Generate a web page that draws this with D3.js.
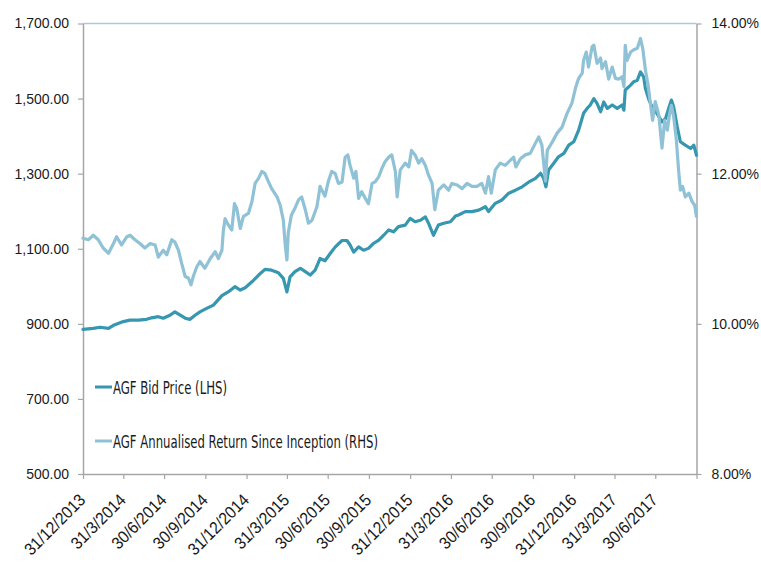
<!DOCTYPE html>
<html>
<head>
<meta charset="utf-8">
<script src="https://cdn.jsdelivr.net/npm/d3@7"></script>
<style>
  html, body { margin: 0; padding: 0; background: #fff; }
  svg { display: block; }
</style>
</head>
<body>
<svg id="chart" width="761" height="562"></svg>
<script>
"use strict";

// AGF Bid Price (LHS)
const bidDates = [
  "2013-12-31","2014-01-23","2014-02-07","2014-02-26","2014-03-09","2014-03-31","2014-04-15","2014-05-04",
  "2014-05-22","2014-06-02","2014-06-17","2014-06-28","2014-07-13","2014-07-24","2014-08-05","2014-08-16",
  "2014-08-27","2014-09-07","2014-09-18","2014-10-03","2014-10-18","2014-11-06","2014-11-20","2014-12-05",
  "2014-12-17","2014-12-28","2015-01-12","2015-01-27","2015-02-10","2015-02-25","2015-03-12","2015-03-23",
  "2015-03-31","2015-04-07","2015-04-18","2015-04-30","2015-05-11","2015-05-22","2015-06-02","2015-06-13",
  "2015-06-24","2015-07-06","2015-07-17","2015-08-01","2015-08-12","2015-08-19","2015-08-27","2015-09-07",
  "2015-09-18","2015-09-29","2015-10-10","2015-10-22","2015-11-02","2015-11-13","2015-11-24","2015-12-05",
  "2015-12-20","2015-12-31","2016-01-11","2016-01-23","2016-02-03","2016-02-10","2016-02-21","2016-03-03",
  "2016-03-15","2016-03-30","2016-04-10","2016-04-17","2016-05-02","2016-05-17","2016-06-01","2016-06-16",
  "2016-06-23","2016-07-08","2016-07-23","2016-08-07","2016-08-22","2016-09-06","2016-09-21","2016-10-05",
  "2016-10-17","2016-10-24","2016-10-29","2016-11-04","2016-11-15","2016-11-26","2016-12-08","2016-12-19",
  "2016-12-30","2017-01-10","2017-01-21","2017-01-29","2017-02-05","2017-02-13","2017-02-20","2017-02-28",
  "2017-03-07","2017-03-15","2017-03-26","2017-04-06","2017-04-17","2017-04-21","2017-04-24","2017-05-06",
  "2017-05-13","2017-05-21","2017-05-28","2017-06-04","2017-06-08","2017-06-16","2017-06-23","2017-07-04",
  "2017-07-15","2017-07-23","2017-07-30","2017-08-05","2017-08-10","2017-08-18","2017-08-25","2017-09-05",
  "2017-09-17","2017-09-24","2017-09-30"
];
const bidValues = [
  885, 888, 891, 888, 896, 906, 910, 910,
  912, 916, 919, 915, 923, 932, 923, 915,
  912, 923, 932, 941, 950, 975, 985, 999,
  990, 996, 1012, 1030, 1045, 1043, 1036, 1021,
  985, 1025, 1039, 1048, 1039, 1030, 1043, 1074,
  1068, 1088, 1105, 1122, 1122, 1110, 1091, 1105,
  1096, 1101, 1114, 1123, 1136, 1150, 1145, 1159,
  1163, 1181, 1172, 1176, 1185, 1168, 1136, 1163,
  1168, 1172, 1187, 1190, 1199, 1199, 1203, 1212,
  1199, 1221, 1230, 1248, 1256, 1265, 1278, 1287,
  1301, 1287, 1265, 1310, 1327, 1345, 1354, 1376,
  1385, 1416, 1461, 1474, 1483, 1500, 1487, 1465,
  1491, 1474, 1483, 1474, 1483, 1469, 1523, 1536,
  1545, 1549, 1571, 1558, 1527, 1496, 1478, 1460,
  1438, 1447, 1474, 1496, 1478, 1425, 1385, 1376,
  1367, 1376, 1349
];

// AGF Annualised Return Since Inception (RHS), in %
const retDates = [
  "2013-12-31","2014-01-12","2014-01-23","2014-02-03","2014-02-14","2014-02-26","2014-03-09","2014-03-16",
  "2014-03-27","2014-04-08","2014-04-15","2014-04-26","2014-05-07","2014-05-18","2014-05-30","2014-06-10",
  "2014-06-17","2014-06-28","2014-07-06","2014-07-17","2014-07-24","2014-08-01","2014-08-08","2014-08-16",
  "2014-08-23","2014-08-29","2014-09-03","2014-09-11","2014-09-18","2014-09-29","2014-10-11","2014-10-22",
  "2014-10-29","2014-11-06","2014-11-09","2014-11-13","2014-11-20","2014-11-28","2014-12-04","2014-12-09",
  "2014-12-17","2014-12-24","2015-01-04","2015-01-12","2015-01-19","2015-01-27","2015-02-03","2015-02-10",
  "2015-02-18","2015-02-25","2015-03-09","2015-03-16","2015-03-23","2015-03-27","2015-03-31","2015-04-03",
  "2015-04-10","2015-04-18","2015-04-26","2015-05-03","2015-05-11","2015-05-18","2015-05-26","2015-06-06",
  "2015-06-13","2015-06-24","2015-07-02","2015-07-09","2015-07-17","2015-07-24","2015-08-01","2015-08-08",
  "2015-08-14","2015-08-19","2015-08-27","2015-09-01","2015-09-07","2015-09-14","2015-09-22","2015-09-29",
  "2015-10-07","2015-10-14","2015-10-22","2015-10-29","2015-11-05","2015-11-13","2015-11-20","2015-11-28",
  "2015-12-02","2015-12-09","2015-12-20","2015-12-28","2016-01-03","2016-01-11","2016-01-19","2016-01-26",
  "2016-02-03","2016-02-10","2016-02-18","2016-02-24","2016-03-03","2016-03-15","2016-03-26","2016-04-02",
  "2016-04-14","2016-04-25","2016-05-06","2016-05-17","2016-05-28","2016-06-08","2016-06-16","2016-06-23",
  "2016-06-29","2016-07-08","2016-07-19","2016-07-30","2016-08-11","2016-08-18","2016-08-23","2016-09-02",
  "2016-09-13","2016-09-24","2016-10-05","2016-10-13","2016-10-20","2016-10-28","2016-11-01","2016-11-12",
  "2016-11-23","2016-12-04","2016-12-15","2016-12-26","2017-01-03","2017-01-10","2017-01-18","2017-01-21",
  "2017-01-27","2017-02-01","2017-02-09","2017-02-13","2017-02-20","2017-02-28","2017-03-03","2017-03-11",
  "2017-03-18","2017-03-26","2017-04-02","2017-04-10","2017-04-17","2017-04-21","2017-04-24","2017-04-28",
  "2017-05-06","2017-05-13","2017-05-21","2017-05-28","2017-06-02","2017-06-08","2017-06-14","2017-06-19",
  "2017-06-24","2017-06-30","2017-07-08","2017-07-15","2017-07-21","2017-07-27","2017-08-01","2017-08-05",
  "2017-08-10","2017-08-16","2017-08-21","2017-08-25","2017-08-30","2017-09-05","2017-09-13","2017-09-20",
  "2017-09-26","2017-09-30"
];
const retValues = [
  11.14, 11.12, 11.18, 11.12, 11.01, 10.94, 11.07, 11.16,
  11.05, 11.16, 11.18, 11.12, 11.07, 11.01, 11.07, 11.05,
  10.89, 10.98, 10.92, 11.12, 11.09, 10.98, 10.81, 10.63,
  10.61, 10.52, 10.63, 10.76, 10.83, 10.74, 10.87, 10.96,
  10.87, 10.98, 11.23, 11.40, 11.32, 11.25, 11.60, 11.54,
  11.27, 11.43, 11.47, 11.63, 11.87, 11.94, 12.03, 12.00,
  11.89, 11.80, 11.69, 11.58, 11.38, 11.07, 10.85, 11.21,
  11.45, 11.54, 11.65, 11.69, 11.52, 11.34, 11.38, 11.56,
  11.83, 11.70, 11.91, 12.03, 12.00, 11.87, 11.89, 12.22,
  12.25, 12.11, 11.94, 12.03, 11.67, 11.76, 11.67, 11.60,
  11.87, 11.89, 11.96, 12.07, 12.16, 12.22, 12.25, 12.03,
  11.69, 12.05, 12.14, 12.09, 12.31, 12.25, 12.14, 12.20,
  12.11, 11.98, 11.87, 11.52, 11.78, 11.85, 11.78, 11.87,
  11.85, 11.80, 11.87, 11.83, 11.83, 11.87, 11.74, 11.96,
  11.74, 12.05, 12.14, 12.11, 12.18, 12.22, 12.09, 12.20,
  12.25, 12.27, 12.40, 12.49, 12.38, 11.90, 12.31, 12.42,
  12.54, 12.62, 12.80, 12.94, 13.14, 13.27, 13.34, 13.51,
  13.62, 13.42, 13.69, 13.71, 13.47, 13.54, 13.40, 13.49,
  13.26, 13.42, 13.27, 13.26, 13.29, 13.16, 13.71, 13.51,
  13.62, 13.65, 13.67, 13.80, 13.67, 13.38, 13.18, 12.94,
  12.71, 12.96, 12.78, 12.34, 12.71, 12.58, 12.80, 12.91,
  12.76, 12.45, 12.05, 11.78, 11.83, 11.69, 11.74, 11.63,
  11.58, 11.43
];

// axis ticks
const xTickLabels = [
  "31/12/2013","31/3/2014","30/6/2014","30/9/2014","31/12/2014","31/3/2015","30/6/2015","30/9/2015",
  "31/12/2015","31/3/2016","30/6/2016","30/9/2016","31/12/2016","31/3/2017","30/6/2017"
];
const leftTicks = [500, 700, 900, 1100, 1300, 1500, 1700];
const rightTicks = [8, 10, 12, 14];
const seriesNames = ["AGF Bid Price (LHS)", "AGF Annualised Return Since Inception (RHS)"];
const seriesColors = ["#3797b0", "#8fc2d6"];

const parseIso = d3.timeParse("%Y-%m-%d");
const parseDmy = d3.timeParse("%d/%m/%Y");

const margin = {top: 23.5, right: 64.5, bottom: 88, left: 83};
const W = 761, H = 562;
const svg = d3.select("#chart");

const domainEnd = parseIso("2017-09-30");
const x = d3.scaleTime()
  .domain([parseIso("2013-12-31"), domainEnd])
  .range([margin.left, W - margin.right]);
const yL = d3.scaleLinear().domain([500, 1700]).range([H - margin.bottom, margin.top]);
const yR = d3.scaleLinear().domain([8, 14]).range([H - margin.bottom, margin.top]);

const axisColor = "#a6a6a6";
const tickFont = "'Liberation Sans', Arial, sans-serif";
const narrowFont = "'Liberation Sans Narrow', 'DejaVu Sans Condensed', 'Liberation Sans', sans-serif";

// top border of plot area
svg.append("line")
  .attr("x1", margin.left).attr("x2", W - margin.right)
  .attr("y1", margin.top).attr("y2", margin.top)
  .attr("stroke", "#a9cbd8").attr("stroke-width", 1.5);

// left axis
const gL = svg.append("g").attr("transform", `translate(${margin.left},0)`)
  .call(d3.axisLeft(yL).tickValues(leftTicks).tickFormat(d3.format(",.2f")).tickSize(5).tickSizeOuter(0).tickPadding(9));
// right axis
const gR = svg.append("g").attr("transform", `translate(${W - margin.right},0)`)
  .call(d3.axisRight(yR).tickValues(rightTicks).tickFormat(d => d.toFixed(2) + "%").tickSize(5).tickSizeOuter(0).tickPadding(10));
// bottom axis
const xTickDates = xTickLabels.map(parseDmy).concat([domainEnd]);
const gX = svg.append("g").attr("transform", `translate(0,${H - margin.bottom})`)
  .call(d3.axisBottom(x).tickValues(xTickDates)
    .tickFormat((d, i) => xTickLabels[i] || "").tickSize(5).tickSizeOuter(0));

[gL, gR, gX].forEach(g => {
  g.select(".domain").attr("stroke", axisColor).attr("stroke-width", 1.5);
  g.selectAll(".tick line").attr("stroke", axisColor).attr("stroke-width", 1.2);
});
[gL, gR].forEach(g => {
  g.selectAll(".tick text").attr("fill", "#1a1a1a").style("font-family", tickFont).style("font-size", "14px");
});
gX.selectAll(".tick text")
  .attr("fill", "#1a1a1a")
  .style("font-family", tickFont).style("font-size", "17px")
  .attr("text-anchor", "end")
  .attr("x", null).attr("y", null).attr("dy", null)
  .attr("transform", "translate(3,27) rotate(-45) scale(0.92,1)");

// lines
const bidData = bidDates.map((d, i) => ({date: parseIso(d), v: bidValues[i]}));
const retData = retDates.map((d, i) => ({date: parseIso(d), v: retValues[i]}));

const lineL = d3.line().x(d => x(d.date)).y(d => yL(d.v));
const lineR = d3.line().x(d => x(d.date)).y(d => yR(d.v));

svg.append("path").datum(bidData)
  .attr("d", lineL).attr("fill", "none")
  .attr("stroke", seriesColors[0]).attr("stroke-width", 3.2)
  .attr("stroke-linejoin", "round").attr("stroke-linecap", "round");
svg.append("path").datum(retData)
  .attr("d", lineR).attr("fill", "none")
  .attr("stroke", seriesColors[1]).attr("stroke-width", 3.2)
  .attr("stroke-linejoin", "round").attr("stroke-linecap", "round");

// legend
const legendY = [387, 441];
const legendLen = [114, 265];
const leg = svg.append("g").selectAll("g").data(seriesNames).enter().append("g")
  .attr("transform", (d, i) => `translate(95,${legendY[i]})`);
leg.append("line")
  .attr("x1", 0).attr("x2", 17).attr("y1", 0).attr("y2", 0)
  .attr("stroke", (d, i) => seriesColors[i]).attr("stroke-width", 3);
leg.append("text")
  .attr("x", 18).attr("y", 7)
  .attr("textLength", (d, i) => legendLen[i])
  .attr("lengthAdjust", "spacingAndGlyphs")
  .style("font-family", narrowFont).style("font-size", "18px")
  .attr("fill", "#1a1a1a")
  .text(d => d);
</script>
</body>
</html>
